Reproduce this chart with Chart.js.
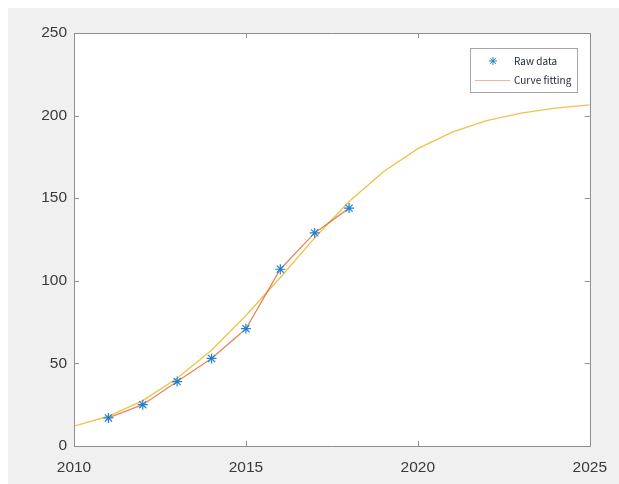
<!DOCTYPE html>
<html>
<head>
<meta charset="utf-8">
<script src="https://cdn.jsdelivr.net/npm/chart.js@4"></script>
<style>
  html, body { margin: 0; padding: 0; background: #ffffff; }
  #frame {
    position: absolute; left: 8px; top: 8px;
    width: 611px; height: 476px; background: #f0f0f0;
  }
  #chart { display: block; }
</style>
</head>
<body>
<div id="frame"><canvas id="chart" width="611" height="476"></canvas></div>
<script>
// Observed values
const rawYears  = [2011, 2012, 2013, 2014, 2015, 2016, 2017, 2018];
const rawValues = [17, 25, 39, 53, 71, 107, 129, 144];

// Fitted growth curve, sampled yearly
const fitYears  = [2010, 2011, 2012, 2013, 2014, 2015, 2016, 2017, 2018, 2019, 2020, 2021, 2022, 2023, 2024, 2025];
const fitValues = [12, 18, 27.5, 41, 58, 79, 102, 126, 148, 166, 180, 190, 197, 201.5, 204.5, 206.5];

// Axis ticks
const xTicks = [2010, 2015, 2020, 2025];
const yTicks = [0, 50, 100, 150, 200, 250];

const legendItems = ['Raw data', 'Curve fitting'];

const toPoints = (xs, ys) => xs.map((x, i) => ({ x: x, y: ys[i] }));

const AXIS_COLOR = '#8f8f8f';
const TEXT_COLOR = '#3a3a3a';

// White plot background, then a box with inward tick marks on all four sides
const boxPlugin = {
  id: 'boxAxes',
  beforeDatasetsDraw(chart) {
    const { ctx, chartArea: a } = chart;
    ctx.save();
    ctx.fillStyle = '#ffffff';
    ctx.fillRect(a.left, a.top, a.right - a.left, a.bottom - a.top);
    ctx.restore();
  },
  afterDatasetsDraw(chart) {
    const { ctx, chartArea: a, scales } = chart;
    ctx.save();
    ctx.strokeStyle = AXIS_COLOR;
    ctx.lineWidth = 1;
    ctx.beginPath();
    ctx.rect(Math.round(a.left) + 0.5, Math.round(a.top) + 0.5,
             Math.round(a.right - a.left), Math.round(a.bottom - a.top));
    ctx.stroke();
    const len = 5;
    ctx.beginPath();
    xTicks.forEach(v => {
      const px = Math.round(scales.x.getPixelForValue(v)) + 0.5;
      ctx.moveTo(px, a.bottom); ctx.lineTo(px, a.bottom - len);
      ctx.moveTo(px, a.top);    ctx.lineTo(px, a.top + len);
    });
    yTicks.forEach(v => {
      const py = Math.round(scales.y.getPixelForValue(v)) + 0.5;
      ctx.moveTo(a.left, py);  ctx.lineTo(a.left + len, py);
      ctx.moveTo(a.right, py); ctx.lineTo(a.right - len, py);
    });
    ctx.stroke();
    ctx.restore();
  }
};

// Legend box in the upper right of the plot
const legendPlugin = {
  id: 'boxLegend',
  afterDraw(chart) {
    const { ctx, chartArea: a } = chart;
    const ds = chart.data.datasets;
    const w = 107, h = 44;
    const x0 = Math.round(a.right) - 13 - w;
    const y0 = Math.round(a.top) + 15;
    ctx.save();
    ctx.fillStyle = '#ffffff';
    ctx.fillRect(x0, y0, w, h);
    ctx.strokeStyle = '#a6a6a6';
    ctx.lineWidth = 1;
    ctx.strokeRect(x0 + 0.5, y0 + 0.5, w, h);

    // marker entry
    const r1 = y0 + 13;
    const cx = x0 + 23;
    ctx.strokeStyle = ds[0].borderColor;
    ctx.lineWidth = 1;
    ctx.beginPath();
    const rr = 4;
    for (let k = 0; k < 4; k++) {
      const ang = k * Math.PI / 4;
      ctx.moveTo(cx - rr * Math.cos(ang), r1 - rr * Math.sin(ang));
      ctx.lineTo(cx + rr * Math.cos(ang), r1 + rr * Math.sin(ang));
    }
    ctx.stroke();

    // line entry
    const r2 = y0 + 32;
    ctx.strokeStyle = 'rgba(230,120,80,0.55)';
    ctx.beginPath();
    ctx.moveTo(x0 + 5, r2 + 0.5);
    ctx.lineTo(x0 + 40, r2 + 0.5);
    ctx.stroke();

    ctx.fillStyle = '#1e2438';
    ctx.font = '10px "Noto Sans CJK SC", "Noto Sans", sans-serif';
    ctx.textBaseline = 'middle';
    ctx.textAlign = 'left';
    ctx.fillText(legendItems[0], x0 + 44, r1);
    ctx.fillText(legendItems[1], x0 + 44, r2);
    ctx.restore();
  }
};

new Chart(document.getElementById('chart'), {
  type: 'scatter',
  data: {
    datasets: [
      {
        label: legendItems[0],
        data: toPoints(rawYears, rawValues),
        showLine: false,
        pointStyle: 'star',
        pointRadius: 5,
        pointBorderWidth: 1.2,
        borderColor: '#1f80d0',
        backgroundColor: '#1f80d0',
        order: 0
      },
      {
        label: legendItems[1],
        data: toPoints(rawYears, rawValues),
        showLine: true,
        borderColor: 'rgba(217,83,25,0.7)',
        borderWidth: 1.3,
        pointRadius: 0,
        tension: 0,
        order: 1
      },
      {
        label: 'fit',
        data: toPoints(fitYears, fitValues),
        showLine: true,
        borderColor: 'rgba(237,177,32,0.8)',
        borderWidth: 1.4,
        pointRadius: 0,
        tension: 0,
        order: 2
      }
    ]
  },
  options: {
    responsive: false,
    animation: false,
    events: [],
    layout: { padding: { left: 0, top: 25, right: 27, bottom: 0 } },
    plugins: {
      legend: { display: false },
      tooltip: { enabled: false }
    },
    scales: {
      x: {
        type: 'linear',
        min: 2010, max: 2025,
        afterBuildTicks: s => { s.ticks = xTicks.map(v => ({ value: v })); },
        afterFit: s => { s.height = 38; },
        grid: { display: false, drawTicks: false },
        border: { display: false },
        ticks: {
          padding: 12,
          color: TEXT_COLOR,
          font: { family: '"Liberation Sans", Arial, sans-serif', size: 15.5 },
          callback: v => String(v),
          maxRotation: 0
        }
      },
      y: {
        type: 'linear',
        min: 0, max: 250,
        afterBuildTicks: s => { s.ticks = yTicks.map(v => ({ value: v })); },
        afterFit: s => { s.width = 66; },
        grid: { display: false, drawTicks: false },
        border: { display: false },
        ticks: {
          padding: 7,
          color: TEXT_COLOR,
          font: { family: '"Liberation Sans", Arial, sans-serif', size: 15.5 },
          callback: v => String(v)
        }
      }
    }
  },
  plugins: [boxPlugin, legendPlugin]
});
</script>
</body>
</html>
